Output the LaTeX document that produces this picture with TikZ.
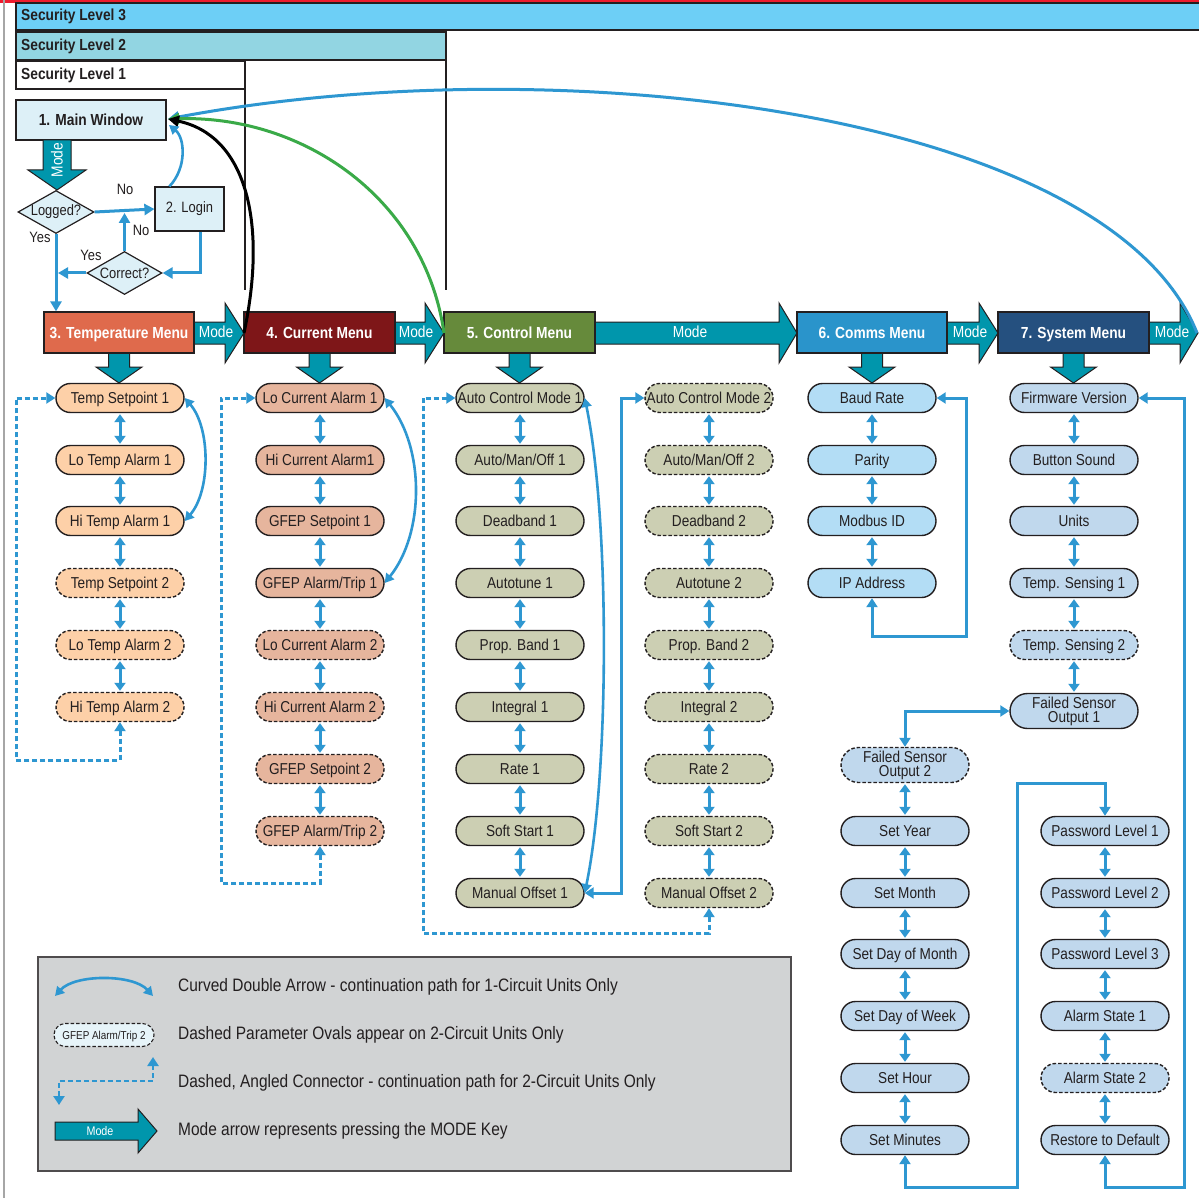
\documentclass[tikz,border=0pt]{standalone}
\usepackage{fontspec}
\setmainfont{Liberation Sans}[FakeStretch=0.86]
\usetikzlibrary{shapes.misc,shapes.geometric,arrows.meta,calc}
\definecolor{lblue}{HTML}{2E97D1}
\definecolor{modeteal}{HTML}{0096AC}
\definecolor{outl}{HTML}{231F20}
\definecolor{sec3}{HTML}{6DCFF6}
\definecolor{sec2}{HTML}{92D5E2}
\definecolor{mwfill}{HTML}{DDF0F7}
\definecolor{tempH}{HTML}{DF6A4C}
\definecolor{currH}{HTML}{7E1618}
\definecolor{ctrlH}{HTML}{668A3B}
\definecolor{commH}{HTML}{2A94CB}
\definecolor{sysH}{HTML}{25507F}
\definecolor{tempO}{HTML}{FDD0A8}
\definecolor{currO}{HTML}{E6B59D}
\definecolor{ctrlO}{HTML}{CCCFB3}
\definecolor{commO}{HTML}{B3DDF5}
\definecolor{sysO}{HTML}{C0D8ED}
\definecolor{legbg}{HTML}{D1D3D4}
\definecolor{greenc}{HTML}{3AAA48}
\definecolor{topred}{HTML}{ED1C2E}
\tikzset{
 ov/.style={rounded rectangle, draw=outl, line width=1.4pt, minimum width=130pt, minimum height=29pt, inner sep=1pt, text=outl, font=\fontsize{15.8}{14}\selectfont, align=center, text height=11.3pt, text depth=0pt},
 dov/.style={ov, dash pattern=on 3.5pt off 2pt},
 two/.style={minimum height=35pt, text height={}, text depth={}},
 hdr/.style={rectangle, draw=outl, line width=1.2pt, minimum width=150pt, minimum height=41pt, inner sep=0pt, text=white, font=\bfseries\fontsize{16}{16}\selectfont, text height=11.5pt, text depth=0pt},
 dbl/.style={draw=lblue, line width=3pt, {Triangle[width=11pt,length=8pt]}-{Triangle[width=11pt,length=8pt]}, shorten <=1pt, shorten >=1pt},
 sloop/.style={draw=lblue, line width=3pt, {Triangle[width=11pt,length=9pt]}-{Triangle[width=11pt,length=9pt]}},
 dloop/.style={sloop, dash pattern=on 5pt off 3pt},
 crv/.style={draw=lblue, line width=2.6pt, {Triangle[width=10pt,length=9pt]}-{Triangle[width=10pt,length=9pt]}},
 fl/.style={draw=lblue, line width=3pt, -{Triangle[width=11pt,length=10pt]}},
 modeshape/.style={draw=outl, line width=1pt, fill=modeteal},
 modetxt/.style={text=white, font=\fontsize{16}{16}\selectfont, inner sep=0pt},
 lbl/.style={text=outl, font=\fontsize{15}{15}\selectfont, inner sep=0pt},
 sectxt/.style={anchor=west, text=outl, font=\bfseries\fontsize{16}{16}\selectfont, inner sep=0pt},
 legtxt/.style={anchor=west, text=outl, font=\fontsize{18}{18}\selectfont, inner sep=0pt},
 bigc/.style={line width=3pt, -{Triangle[width=11pt,length=11pt]}},
 boxw/.style={draw=outl, fill=mwfill, line width=1.2pt, text=outl},
 dia/.style={diamond, aspect=1.77, draw=outl, fill=mwfill, line width=1.2pt, inner sep=0pt, text=outl, font=\fontsize{15}{15}\selectfont},
}
\newcommand\mdR[5]{%
 \draw[modeshape] (#1,322) -- (#2,322) -- (#2,303) -- (#3,333) -- (#2,363) -- (#2,344) -- (#1,344) -- cycle;
 \node[modetxt] (#5) at (#4,332) {Mode};}
\newcommand\mdD[1]{%
 \draw[modeshape] (#1-10.5,353) -- (#1+10.5,353) -- (#1+10.5,367) -- (#1+23,367) -- (#1,383) -- (#1-23,367) -- (#1-10.5,367) -- cycle;}
\begin{document}
\begin{tikzpicture}[x=1pt,y=-1pt]
\useasboundingbox (0,0) rectangle (1199,1198);
\fill[white] (0,0) rectangle (1199,1198);
\fill[topred] (0,0) rectangle (1199,3);
\draw[black!35, line width=2pt] (4,0) -- (4,1198);
% security levels
\draw[fill=sec3, draw=outl, line width=1.2pt] (16,3) rectangle (1205,30);
\node[sectxt] (sl3) at (21,16.5) {Security Level 3};
\draw[fill=sec2, draw=outl, line width=1.2pt] (16,32) rectangle (446,60);
\node[sectxt] (sl2) at (21,46) {Security Level 2};
\draw[fill=white, draw=outl, line width=1.2pt] (16,61) rectangle (245,89);
\node[sectxt] (sl1) at (21,75) {Security Level 1};
\draw[outl, line width=1.2pt] (245,89) -- (245,290);
\draw[outl, line width=1.2pt] (446,60) -- (446,290);
% main window area
\node[boxw, minimum width=150pt, minimum height=40pt, font=\bfseries\fontsize{16}{16}\selectfont, text height=11.5pt, text depth=0pt] (mw) at (91,120) {1. Main Window};
\coordinate (mwin) at (168,119);
\draw[modeshape] (43,140) -- (71,140) -- (71,170) -- (86,170) -- (57,190) -- (28,170) -- (43,170) -- cycle;
\node[modetxt, rotate=90] (mwmode) at (57,160) {Mode};
\node[dia, minimum width=76pt, minimum height=43pt] (lgd) at (56,212) {Logged?};
\node[boxw, minimum width=69pt, minimum height=44pt, font=\fontsize{15}{15}\selectfont] (lg) at (189.5,209) {2. Login};
\node[dia, minimum width=75pt, minimum height=43pt] (cor) at (124.5,273) {Correct?};
\node[lbl] (no1) at (125,189) {No};
\node[lbl] (yes1) at (40,237) {Yes};
\node[lbl] (no2) at (141,230) {No};
\node[lbl] (yes2) at (91,255) {Yes};
\coordinate (j1) at (124.5,213);
\coordinate (j2) at (58,273);
\draw[fl] (lgd.east) -- (lg.west);
\draw[fl] ($(lg.south)+(11,0)$) |- (cor.east);
\draw[fl] (cor.north) -- (j1);
\draw[fl] (cor.west) -- (j2);
% headers
\mdR{194}{225}{244}{216}{md1}
\mdR{395}{425}{444}{416}{md2}
\mdR{595}{779}{797}{690}{md3}
\mdR{947}{979}{998}{970}{md4}
\mdR{1149}{1180}{1198}{1172}{md5}
\mdD{119}\mdD{319.5}\mdD{519.5}\mdD{872}\mdD{1073.5}
\node[hdr, fill=tempH] (tm) at (119,332.5) {3. Temperature Menu};
\node[hdr, fill=currH, minimum width=151pt] (cm) at (319.5,332.5) {4. Current Menu};
\node[hdr, fill=ctrlH, minimum width=151pt] (km) at (519.5,332.5) {5. Control Menu};
\node[hdr, fill=commH] (om) at (872,332.5) {6. Comms Menu};
\node[hdr, fill=sysH, minimum width=151pt] (sm) at (1073.5,332.5) {7. System Menu};
\draw[fl] (lgd.south) -- (lgd.south |- tm.north);
% temperature
\node[ov, fill=tempO] (t1) at (120,398) {Temp Setpoint 1};
\node[ov, fill=tempO] (t2) at (120,460) {Lo Temp Alarm 1};
\node[ov, fill=tempO] (t3) at (120,521) {Hi Temp Alarm 1};
\node[dov, fill=tempO] (t4) at (120,583) {Temp Setpoint 2};
\node[dov, fill=tempO] (t5) at (120,645) {Lo Temp Alarm 2};
\node[dov, fill=tempO] (t6) at (120,707) {Hi Temp Alarm 2};
% current
\node[ov, fill=currO] (c1) at (320,398) {Lo Current Alarm 1};
\node[ov, fill=currO] (c2) at (320,460) {Hi Current Alarm1};
\node[ov, fill=currO] (c3) at (320,521) {GFEP Setpoint 1};
\node[ov, fill=currO] (c4) at (320,583) {GFEP Alarm/Trip 1};
\node[dov, fill=currO] (c5) at (320,645) {Lo Current Alarm 2};
\node[dov, fill=currO] (c6) at (320,707) {Hi Current Alarm 2};
\node[dov, fill=currO] (c7) at (320,769) {GFEP Setpoint 2};
\node[dov, fill=currO] (c8) at (320,831) {GFEP Alarm/Trip 2};
% control 1
\node[ov, fill=ctrlO] (a1) at (520,398) {Auto Control Mode 1};
\node[ov, fill=ctrlO] (a2) at (520,460) {Auto/Man/Off 1};
\node[ov, fill=ctrlO] (a3) at (520,521) {Deadband 1};
\node[ov, fill=ctrlO] (a4) at (520,583) {Autotune 1};
\node[ov, fill=ctrlO] (a5) at (520,645) {Prop. Band 1};
\node[ov, fill=ctrlO] (a6) at (520,707) {Integral 1};
\node[ov, fill=ctrlO] (a7) at (520,769) {Rate 1};
\node[ov, fill=ctrlO] (a8) at (520,831) {Soft Start 1};
\node[ov, fill=ctrlO] (a9) at (520,893) {Manual Offset 1};
% control 2
\node[dov, fill=ctrlO] (b1) at (709,398) {Auto Control Mode 2};
\node[dov, fill=ctrlO] (b2) at (709,460) {Auto/Man/Off 2};
\node[dov, fill=ctrlO] (b3) at (709,521) {Deadband 2};
\node[dov, fill=ctrlO] (b4) at (709,583) {Autotune 2};
\node[dov, fill=ctrlO] (b5) at (709,645) {Prop. Band 2};
\node[dov, fill=ctrlO] (b6) at (709,707) {Integral 2};
\node[dov, fill=ctrlO] (b7) at (709,769) {Rate 2};
\node[dov, fill=ctrlO] (b8) at (709,831) {Soft Start 2};
\node[dov, fill=ctrlO] (b9) at (709,893) {Manual Offset 2};
% comms
\node[ov, fill=commO] (m1) at (872,398) {Baud Rate};
\node[ov, fill=commO] (m2) at (872,460) {Parity};
\node[ov, fill=commO] (m3) at (872,521) {Modbus ID};
\node[ov, fill=commO] (m4) at (872,583) {IP Address};
% system
\node[ov, fill=sysO] (s1) at (1074,398) {Firmware Version};
\node[ov, fill=sysO] (s2) at (1074,460) {Button Sound};
\node[ov, fill=sysO] (s3) at (1074,521) {Units};
\node[ov, fill=sysO] (s4) at (1074,583) {Temp. Sensing 1};
\node[dov, fill=sysO] (s5) at (1074,645) {Temp. Sensing 2};
\node[ov, fill=sysO, two] (s6) at (1074,711) {Failed Sensor\\Output 1};
\node[dov, fill=sysO, two] (p1) at (905,765) {Failed Sensor\\Output 2};
\node[ov, fill=sysO] (p2) at (905,831) {Set Year};
\node[ov, fill=sysO] (p3) at (905,893) {Set Month};
\node[ov, fill=sysO] (p4) at (905,954) {Set Day of Month};
\node[ov, fill=sysO] (p5) at (905,1016) {Set Day of Week};
\node[ov, fill=sysO] (p6) at (905,1078) {Set Hour};
\node[ov, fill=sysO] (p7) at (905,1140) {Set Minutes};
\node[ov, fill=sysO] (q1) at (1105,831) {Password Level 1};
\node[ov, fill=sysO] (q2) at (1105,893) {Password Level 2};
\node[ov, fill=sysO] (q3) at (1105,954) {Password Level 3};
\node[ov, fill=sysO] (q4) at (1105,1016) {Alarm State 1};
\node[dov, fill=sysO] (q5) at (1105,1078) {Alarm State 2};
\node[ov, fill=sysO] (q6) at (1105,1140) {Restore to Default};
% vertical double arrows
\foreach \u/\v in {t1/t2,t2/t3,t3/t4,t4/t5,t5/t6,
 c1/c2,c2/c3,c3/c4,c4/c5,c5/c6,c6/c7,c7/c8,
 a1/a2,a2/a3,a3/a4,a4/a5,a5/a6,a6/a7,a7/a8,a8/a9,
 b1/b2,b2/b3,b3/b4,b4/b5,b5/b6,b6/b7,b7/b8,b8/b9,
 m1/m2,m2/m3,m3/m4,
 s1/s2,s2/s3,s3/s4,s4/s5,s5/s6,
 p1/p2,p2/p3,p3/p4,p4/p5,p5/p6,p6/p7,
 q1/q2,q2/q3,q3/q4,q4/q5,q5/q6}
 \draw[dbl] (\u.south) -- (\v.north);
% curved 1-circuit arrows
\draw[crv] (t1.east) .. controls +(26,30) and +(26,-30) .. (t3.east);
\draw[crv] (c1.east) .. controls +(40,50) and +(40,-50) .. (c4.east);
\draw[crv] (a1.east) .. controls +(25,120) and +(25,-120) .. (a9.east);
% loops
\draw[dloop] (t6.south) -- (120,760) -- (16,760) -- (16,398) -- (t1.west);
\draw[dloop] (c8.south) -- (320,883) -- (221,883) -- (221,398) -- (c1.west);
\draw[dloop] (b9.south) -- (709,933) -- (423,933) -- (423,398) -- (a1.west);
\draw[sloop] (a9.east) -- (621,893) -- (621,398) -- (b1.west);
\draw[sloop] (m4.south) -- (872,636) -- (966,636) -- (966,398) -- (m1.east);
\draw[sloop] (p1.north) |- (s6.west);
\draw[sloop] (p7.south) -- (905,1187) -- (1017,1187) -- (1017,783) -- (1105,783) -- (q1.north);
\draw[sloop] (q6.south) -- (1105,1187) -- (1184,1187) -- (1184,398) -- (s1.east);
% return curves to main window
\coordinate (rb) at (1197,333);
\coordinate (rg) at (444,333);
\coordinate (rk) at (244,333);
\draw[bigc, lblue] (rb) .. controls (1110,112) and (560,45) .. (mwin);
\draw[bigc, greenc] (rg) .. controls (425,200) and (305,115) .. (mwin);
\draw[bigc, black] (rk) .. controls (268,220) and (245,135) .. (mwin);
\draw[lblue, line width=2.6pt, -{Triangle[width=10pt,length=9pt]}] ($(lg.north west)+(15,0)$) .. controls (187,168) and (185,138) .. (169,125);
% legend
\draw[fill=legbg, draw=outl!80, line width=1.5pt] (38,957) rectangle (791,1171);
\coordinate (lc1) at (55,996);
\coordinate (lc2) at (153,996);
\draw[crv] (lc1) .. controls +(20,-22) and +(-20,-22) .. (lc2);
\node[dov, minimum width=102pt, minimum height=23pt, fill=mwfill!70, font=\fontsize{11.5}{11}\selectfont, text height=8.3pt, line width=1.1pt] (lgov) at (104,1035) {GFEP Alarm/Trip 2};
\coordinate (ld1) at (153,1057);
\coordinate (ld2) at (59,1105);
\draw[dloop, line width=2.5pt] (ld1) -- (153,1081) -- (59,1081) -- (ld2);
\draw[modeshape] (55,1122) -- (138,1122) -- (138,1109) -- (157,1131) -- (138,1153) -- (138,1140) -- (55,1140) -- cycle;
\node[modetxt, font=\fontsize{12.5}{12}\selectfont] (lmode) at (100,1131) {Mode};
\node[legtxt] (lt1) at (178,987) {Curved Double Arrow - continuation path for 1-Circuit Units Only};
\node[legtxt] (lt2) at (178,1035) {Dashed Parameter Ovals appear on 2-Circuit Units Only};
\node[legtxt] (lt3) at (178,1083) {Dashed, Angled Connector - continuation path for 2-Circuit Units Only};
\node[legtxt] (lt4) at (178,1131) {Mode arrow represents pressing the MODE Key};
\end{tikzpicture}
\end{document}
